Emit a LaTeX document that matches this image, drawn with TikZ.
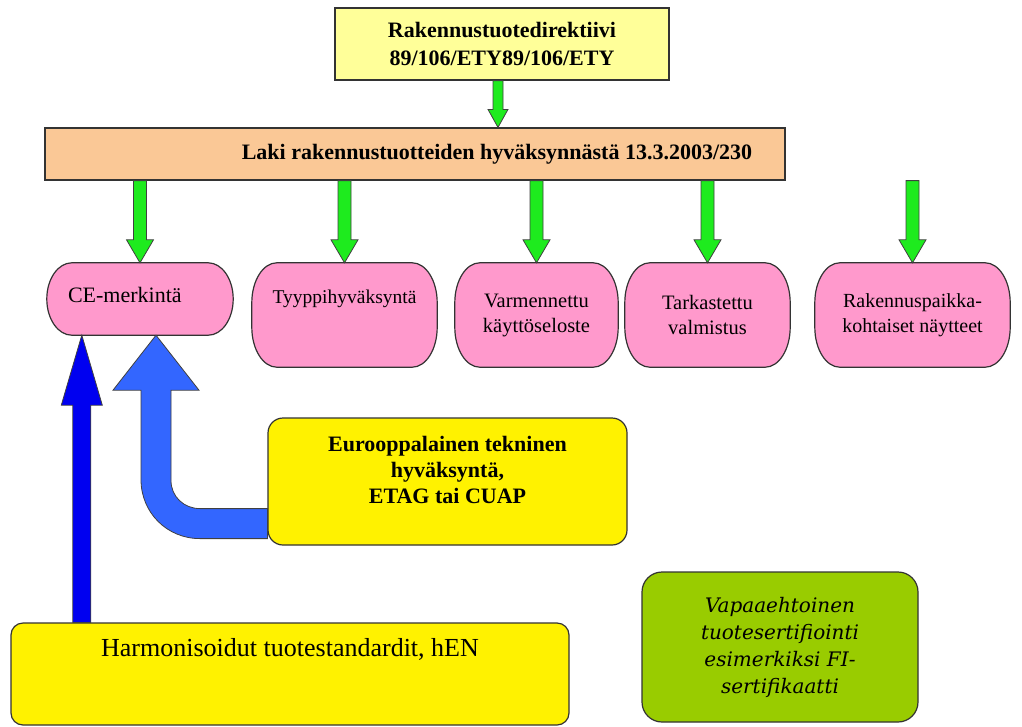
\documentclass[tikz,border=0pt]{standalone}
\usepackage{fontspec}
\setmainfont{Liberation Serif}
\newfontfamily\slabfont{DejaVu Serif}
\usetikzlibrary{calc, backgrounds}

\definecolor{paleyellow}{RGB}{255,255,153}
\definecolor{peach}{RGB}{250,200,150}
\definecolor{arrowgreen}{RGB}{30,235,30}
\definecolor{pinkfill}{RGB}{255,153,204}
\definecolor{darkblue}{RGB}{0,0,240}
\definecolor{lightblue}{RGB}{51,102,255}
\definecolor{limegreen}{RGB}{153,204,0}

% vertical block arrow: style, from, to, half shaft, half head, head length
\newcommand{\blockarrow}[6]{%
  \path[#1] let \p1=(#2), \p2=(#3) in
    (\x1-#4,\y1) -- (\x1-#4,\y2+#6) -- (\x1-#5,\y2+#6) -- (\x1,\y2)
    -- (\x1+#5,\y2+#6) -- (\x1+#4,\y2+#6) -- (\x1+#4,\y1) -- cycle;}

% pink outline with elliptic corners round a node
\newcommand{\pinkshape}[1]{%
  \path[pinkline] let \p1=(#1.south west), \p2=(#1.north east),
      \n1={min(40,(\y2-\y1)/2)} in
    (\x1+25pt,\y1) -- (\x2-25pt,\y1)
    .. controls (\x2-11.2pt,\y1) and (\x2,\y1+0.4477*\n1) .. (\x2,\y1+\n1)
    -- (\x2,\y2-\n1)
    .. controls (\x2,\y2-0.4477*\n1) and (\x2-11.2pt,\y2) .. (\x2-25pt,\y2)
    -- (\x1+25pt,\y2)
    .. controls (\x1+11.2pt,\y2) and (\x1,\y2-0.4477*\n1) .. (\x1,\y2-\n1)
    -- (\x1,\y1+\n1)
    .. controls (\x1,\y1+0.4477*\n1) and (\x1+11.2pt,\y1) .. (\x1+25pt,\y1) -- cycle;}

\begin{document}
\begin{tikzpicture}[x=1pt, y=-1pt,
    box/.style = {draw=black!80, line width=1.2pt, inner sep=0pt, align=center},
    pinkbox/.style = {inner sep=0pt, align=center, minimum height=104pt,
                      font=\fontsize{20.5}{25}\selectfont},
    pinkline/.style = {draw=black!80, line width=1.2pt, fill=pinkfill},
    garrow/.style = {draw=black!75, line width=0.8pt, fill=arrowgreen},
    barrow/.style = {draw=black!75, line width=0.8pt, fill=darkblue},
    lbarrow/.style = {draw=black!75, line width=0.8pt, fill=lightblue}]
    \path[use as bounding box] (0,0) rectangle (1022,726);

    \node (top) [box, fill=paleyellow, minimum width=334pt, minimum height=72pt,
                 font=\bfseries\fontsize{22}{28}\selectfont] at (502,44)
                 {Rakennustuotedirektiivi\\89/106/ETY89/106/ETY};
    \node (law) [box, fill=peach, minimum width=740pt, minimum height=52pt,
                 label={[font=\bfseries\fontsize{22}{26}\selectfont, xshift=82pt]center:Laki rakennustuotteiden hyväksynnästä 13.3.2003/230}]
                 at (415,154) {};

    \node (ce) [pinkbox, minimum width=186pt, minimum height=72pt, font=\fontsize{22}{26}\selectfont,
                text height=39pt, text depth=33pt, text width=144pt, inner xsep=21pt, align=left]
                at (140,299) {CE-merkintä};
    \node (tyyppi) [pinkbox, minimum width=185pt, font=\fontsize{19.5}{22}\selectfont,
                    text height=40pt, text depth=64pt] at (344.5,315) {Tyyppihyväksyntä};
    \node (varm) [pinkbox, minimum width=163pt] at (536.5,315) {Varmennettu\\käyttöseloste};
    \node (tark) [pinkbox, minimum width=165pt] at (707.5,315) {Tarkastettu\\valmistus};
    \node (rak) [pinkbox, minimum width=195pt, font=\fontsize{20}{25}\selectfont] at (912.5,315)
                {Rakennuspaikka-\\kohtaiset näytteet};

    \node (eta) [box, fill=yellow, rounded corners=15pt, minimum width=359pt, minimum height=127pt,
                 font=\bfseries\fontsize{22}{26}\selectfont, text depth=24pt] at (447.5,481.5)
                 {Eurooppalainen tekninen\\hyväksyntä,\\ETAG tai CUAP};
    \node (harm) [box, fill=yellow, rounded corners=12pt, minimum width=558pt,
                  font=\fontsize{26}{30}\selectfont, text height=33.5pt, text depth=68.5pt]
                  at (290,674) {Harmonisoidut tuotestandardit, hEN};
    \node (vapaa) [box, fill=limegreen, rounded corners=20pt, minimum width=276pt, minimum height=150pt,
                   font=\slabfont\itshape\fontsize{20}{27}\selectfont] at (780,647)
                   {Vapaaehtoinen\\tuotesertifiointi\\esimerkiksi FI-\\sertifikaatti};

    \begin{scope}[on background layer]
        \fill[white] (0,0) rectangle (1022,726);
        \foreach \b in {ce,tyyppi,varm,tark,rak}
            \pinkshape{\b};
    \end{scope}

    % green arrows
    \blockarrow{garrow}{$(top.south)+(-4,0)$}{law.north}{5pt}{10pt}{18pt}
    \foreach \b in {ce,tyyppi,varm,tark,rak}
        \blockarrow{garrow}{\b.north |- law.south}{\b.north}{6.5pt}{13.5pt}{23pt};

    % blue arrows
    \blockarrow{barrow}{$(harm.north -| ce.south west)+(35,0)$}{ce.south}{9pt}{20.5pt}{0pt-70pt}
    \path[lbarrow] let \p1=($(eta.south west)+(0,-7)$), \p2=($(ce.south)+(16,0)$) in
        (\x1,\y1) -- (\x2+44pt,\y1)
        .. controls (\x2+11pt,\y1) and (\x2-15pt,\y1+26pt) .. (\x2-15pt,\y1+59pt)
        -- (\x2-15pt,\y2-55pt) -- (\x2-43pt,\y2-55pt) -- (\x2,\y2)
        -- (\x2+43pt,\y2-55pt) -- (\x2+15pt,\y2-55pt) -- (\x2+15pt,\y1+58pt)
        .. controls (\x2+15pt,\y1+42pt) and (\x2+28pt,\y1+30pt) .. (\x2+44pt,\y1+30pt)
        -- (\x1,\y1+30pt) -- cycle;
\end{tikzpicture}
\end{document}
